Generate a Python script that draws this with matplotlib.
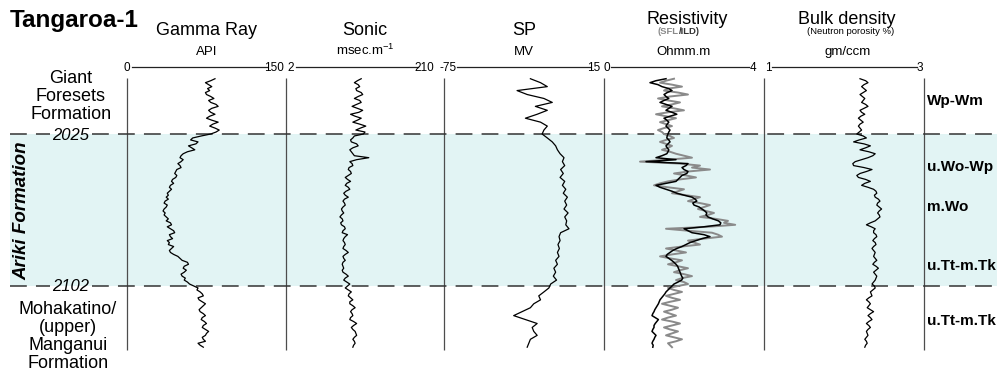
import numpy as np
import matplotlib.pyplot as plt

plt.rcParams['font.family'] = ['Liberation Sans', 'DejaVu Sans']

W, H = 1006, 372

# formation tops (m) and depth samples
horizons = [2025, 2102]
depth_1m = np.arange(1997, 2134, 1)   # gamma, sonic, resistivity, density
depth_2m = np.arange(1997, 2135, 2)   # SP

gamma = [83, 79, 74, 77, 80, 76, 78, 74, 75, 79, 82, 77, 79, 84, 86, 80, 77, 79, 83, 78,
         75, 80, 86, 81, 78, 83, 87, 84, 79,
         70, 62, 60, 67, 65, 58, 61, 64, 57, 53, 51, 50, 53, 51, 48, 50, 51, 47, 46, 45,
         47, 46, 43, 42, 44, 41, 40, 42, 40, 38, 39, 37, 39, 36, 35, 38, 37, 35, 34, 36,
         35, 37, 39, 37, 41, 42, 38, 41, 44, 45, 40, 41, 43, 38, 40, 39, 44, 42, 40, 41,
         44, 48, 50, 52, 57, 58, 54, 53, 56, 54, 51, 52, 55, 54, 57, 59, 63, 67, 66, 69,
         71, 72, 67, 68, 71, 74, 72, 70, 68, 69, 72, 74, 71, 70, 73, 75, 72, 71, 74, 77,
         75, 74, 71, 72, 74, 67, 69, 72]

sonic = [101, 96, 92, 97, 99, 94, 95, 101, 103, 97, 92, 99, 101, 95, 89, 96, 103, 98, 87, 93,
         101, 96, 90, 99, 107, 100, 94, 106, 104,
         92, 90, 87, 88, 95, 97, 90, 86, 88, 90, 92, 111, 95, 86, 89, 90, 85, 84, 87, 88,
         84, 80, 83, 87, 82, 80, 84, 86, 81, 78, 80, 84, 79, 77, 79, 80, 77, 75, 76, 78,
         75, 73, 76, 77, 74, 75, 79, 80, 77, 76, 83, 80, 78, 77, 79, 80, 78, 77, 81, 84,
         80, 77, 78, 80, 77, 76, 77, 78, 76, 77, 81, 84, 80, 78, 82, 86, 83, 80, 84, 88,
         85, 84, 87, 90, 86, 86, 90, 93, 89, 87, 89, 90, 87, 86, 91, 95, 91, 88, 90, 93,
         94, 95, 92, 90, 92, 93, 91, 90]

density = [2.20, 2.27, 2.30, 2.25, 2.22, 2.25, 2.28, 2.24, 2.20, 2.23, 2.26, 2.24, 2.22, 2.27,
           2.30, 2.25, 2.20, 2.22, 2.26, 2.21, 2.18, 2.21, 2.24, 2.20, 2.18, 2.20, 2.22, 2.19, 2.16,
           2.24, 2.28, 2.19, 2.12, 2.25, 2.33, 2.27, 2.20, 2.31, 2.39, 2.36, 2.30, 2.22, 2.14,
           2.11, 2.12, 2.25, 2.35, 2.28, 2.20,
           2.16, 2.18, 2.27, 2.33, 2.26, 2.22, 2.30, 2.37, 2.40, 2.41, 2.38, 2.39, 2.43, 2.45,
           2.42, 2.41, 2.44, 2.47, 2.44, 2.42,
           2.44, 2.45, 2.42, 2.39, 2.33, 2.28, 2.34, 2.39, 2.37, 2.37, 2.40, 2.41, 2.38, 2.36,
           2.39, 2.40, 2.37, 2.35, 2.37, 2.39,
           2.38, 2.37, 2.39, 2.41, 2.38, 2.36, 2.40, 2.43, 2.40, 2.37, 2.39, 2.41, 2.40, 2.39,
           2.37, 2.35, 2.38, 2.39, 2.36, 2.33,
           2.34, 2.35, 2.31, 2.28, 2.31, 2.33, 2.31, 2.29, 2.33, 2.37, 2.33, 2.30, 2.33, 2.35,
           2.31, 2.28, 2.31, 2.33, 2.30, 2.28,
           2.29, 2.30, 2.28, 2.26, 2.28, 2.29, 2.27, 2.26]

sfl = [1.75, 1.55, 1.40, 1.70, 1.95, 1.60, 1.50, 1.85, 2.10, 1.65, 1.35, 1.60, 1.90, 1.70,
       1.45, 1.75, 2.00, 1.60, 1.30, 1.55, 1.80, 1.60, 1.40, 1.55, 1.70, 1.50, 1.35, 1.45, 1.50,
       1.65, 1.75, 1.55, 1.40, 1.55, 1.70, 1.60, 1.45, 1.65, 1.80, 2.00, 2.20, 1.60, 0.90,
       1.90, 2.40, 2.20, 2.65, 2.10, 1.75,
       2.05, 2.30, 1.90, 1.60, 1.40, 1.25, 1.60, 2.00, 1.85, 1.70, 2.05, 2.40, 2.25, 2.10,
       2.40, 2.65, 2.50, 2.35, 2.55, 2.75,
       2.60, 2.40, 2.80, 3.10, 3.00, 3.28, 2.60, 1.55, 2.10, 2.70, 2.85, 2.95, 2.50, 2.10,
       2.25, 2.40, 1.95, 1.55, 1.80, 2.05,
       1.70, 1.40, 1.65, 1.95, 1.80, 1.60, 1.85, 2.10, 1.90, 1.75, 2.00, 2.20, 1.95, 1.80,
       2.00, 2.10, 1.85, 1.60, 1.75, 1.95,
       1.75, 1.55, 1.70, 1.90, 1.65, 1.45, 1.65, 1.85, 1.70, 1.50, 1.65, 1.80, 1.60, 1.45,
       1.70, 1.90, 1.70, 1.50, 1.65, 1.85,
       1.70, 1.55, 1.75, 1.95, 1.80, 1.60, 1.65, 1.70]

ild = [1.55, 1.30, 1.15, 1.35, 1.45, 1.62, 1.70, 1.58, 1.50, 1.55, 1.62, 1.50, 1.40, 1.55,
       1.70, 1.62, 1.55, 1.70, 1.82, 1.65, 1.50, 1.57, 1.62, 1.58, 1.55, 1.60, 1.65, 1.62, 1.60,
       1.58, 1.57, 1.62, 1.65, 1.60, 1.55, 1.58, 1.62, 1.60, 1.57, 1.45, 1.30, 1.80, 1.05,
       2.10, 2.05, 1.95, 2.00, 2.10, 2.07,
       1.95, 1.90, 1.85, 1.80, 1.55, 1.30, 1.40, 1.55, 1.70, 1.82, 2.00, 2.20, 2.28, 2.32,
       2.22, 2.25, 2.38, 2.45, 2.52, 2.57,
       2.55, 2.60, 2.72, 2.86, 2.92, 2.90, 2.50, 2.00, 2.10, 2.20, 2.50, 2.65, 2.45, 2.30,
       2.15, 2.05, 1.95, 1.82, 1.72, 1.65,
       1.58, 1.55, 1.62, 1.69, 1.75, 1.80, 1.84, 1.86, 1.88, 1.90, 1.92, 1.94, 1.97, 1.94,
       1.85, 1.75, 1.70, 1.65, 1.60, 1.55,
       1.52, 1.48, 1.44, 1.40, 1.38, 1.36, 1.33, 1.30, 1.27, 1.25, 1.22, 1.20, 1.28, 1.36,
       1.32, 1.28, 1.25, 1.25, 1.22, 1.20,
       1.25, 1.30, 1.27, 1.25, 1.22, 1.20, 1.23, 1.22]

sp = [-26.4, -20.7, -16.9, -33.9, -28.2, -18.8, -14.1, -23.6, -16.9, -22.6,
      -29.2, -20.7, -16.9, -18.8, -19.8,
      -16.9, -14.1, -12.2, -11.2, -9.7, -7.5, -8.4, -7.1, -9.4, -7.9,
      -9.7, -7.1, -8.4, -6.5, -7.9, -5.6, -7.1, -6.0, -7.5, -5.2,
      -7.1, -6.0, -6.5, -4.7, -9.4, -10.3, -9.7, -10.9, -10.1, -11.2,
      -10.3, -12.2, -11.2, -13.2, -12.2, -13.5, -11.7, -15.0, -16.0, -18.8,
      -21.7, -20.7, -24.5, -26.4, -31.1, -35.8, -29.2, -22.6, -25.4, -24.5,
      -22.6, -26.4, -27.3, -28.2]

track_names = ['Gamma Ray', 'Sonic', 'SP', 'Resistivity', 'Bulk density']
track_units = ['API', 'msec.m$^{\\mathregular{-1}}$', 'MV', 'Ohmm.m', 'gm/ccm']
track_min = [0, 2, -75, 0, 1]
track_max = [150, 210, 15, 4, 3]

# pixel layout
track_x = [127, 286, 444, 604, 764, 924]
Y_HZ = [134, 286]


def depth_at(y):
    return horizons[0] + (y - Y_HZ[0]) * (horizons[1] - horizons[0]) / (Y_HZ[1] - Y_HZ[0])


fig = plt.figure(figsize=(W / 100, H / 100), dpi=100)

# background: shading, horizons, track borders (x in pixels, y in depth)
bg = fig.add_axes([0, 0, 1, 1])
bg.set_xlim(0, W)
bg.set_ylim(depth_at(H), depth_at(0))
bg.axis('off')
bg.fill_betweenx(horizons, 10, 997, color='#e2f4f4', lw=0, zorder=0)
bg.vlines(track_x, depth_at(78), depth_at(350), color='#4d4d4d', lw=0.9, zorder=2)
for d in horizons:
    bg.plot([10, 50], [d, d], color='#333333', lw=1.1, ls=(0, (11, 6)), zorder=3)
    bg.plot([92, 997], [d, d], color='#333333', lw=1.1, ls=(0, (11, 6)), zorder=3)

# log tracks
for i in range(5):
    x0, x1 = track_x[i], track_x[i + 1]
    ax = fig.add_axes([x0 / W, 0, (x1 - x0) / W, 1])
    ax.set_xlim(track_min[i], track_max[i])
    ax.set_ylim(depth_at(H), depth_at(0))
    ax.axis('off')
    if i == 0:
        ax.plot(gamma, depth_1m, color='black', lw=0.9)
    elif i == 1:
        ax.plot(sonic, depth_1m, color='black', lw=0.9)
    elif i == 2:
        ax.plot(sp, depth_2m, color='black', lw=0.9)
    elif i == 3:
        ax.plot(sfl, depth_1m, color='#8a8a8a', lw=1.4)
        ax.plot(ild, depth_1m, color='black', lw=1.1)
    else:
        ax.plot(density, depth_1m, color='black', lw=0.9)

# text overlay in pixel coordinates
tx = fig.add_axes([0, 0, 1, 1])
tx.set_xlim(0, W)
tx.set_ylim(H, 0)
tx.axis('off')

tx.text(10, 27, 'Tangaroa-1', fontsize=17.5, fontweight='bold', ha='left', va='baseline')

for i in range(5):
    xc = (track_x[i] + track_x[i + 1]) / 2
    if i < 3:
        tx.text(xc, 35, track_names[i], fontsize=13, ha='center', va='baseline')
    else:
        tx.text(xc + 3, 24, track_names[i], fontsize=13, ha='center', va='baseline')
    tx.text(xc + (4 if i == 4 else 0), 55, track_units[i], fontsize=9.5, ha='center', va='baseline')

tx.text(679, 33.5, '(SFL', fontsize=6.8, fontweight='bold', color='#8a8a8a', ha='right', va='baseline')
tx.text(679, 33.5, '/ILD)', fontsize=6.8, fontweight='bold', color='#333333', ha='left', va='baseline')
tx.text(851, 33.5, '(Neutron porosity %)', fontsize=6.8, ha='center', va='baseline')

# scale bars
scale_left = [124, 287, 440, 604, 765]
scale_right = [284, 434, 600, 756, 923]
line_span = [(132, 267), (296, 418), (457, 590), (611, 749), (772, 917)]
for i in range(5):
    tx.text(scale_left[i], 71, str(track_min[i]), fontsize=8.5, ha='left', va='baseline')
    tx.text(scale_right[i], 71, str(track_max[i]), fontsize=8.5, ha='right', va='baseline')
    tx.plot(line_span[i], [67, 67], color='#222222', lw=0.9)

# formation names
for k, line in enumerate(['Giant', 'Foresets', 'Formation']):
    tx.text(71, 83 + 18 * k, line, fontsize=13, ha='center', va='baseline')
for k, line in enumerate(['Mohakatino/', '(upper)', 'Manganui', 'Formation']):
    tx.text(68, 314 + 18 * k, line, fontsize=13, ha='center', va='baseline')
tx.text(22, 211, 'Ariki Formation', fontsize=13.5, fontweight='bold', fontstyle='italic',
        rotation=90, ha='center', va='center')
tx.text(71, 139.5, str(horizons[0]), fontsize=12, fontstyle='italic', ha='center', va='baseline')
tx.text(71, 291, str(horizons[1]), fontsize=12, fontstyle='italic', ha='center', va='baseline')

# biostratigraphic zones
zones = ['Wp-Wm', 'u.Wo-Wp', 'm.Wo', 'u.Tt-m.Tk', 'u.Tt-m.Tk']
zone_y = [105, 171, 211, 270, 325]
for name, y in zip(zones, zone_y):
    tx.text(927, y, name, fontsize=11, fontweight='bold', ha='left', va='baseline')

fig.savefig('out.png', dpi=100)
